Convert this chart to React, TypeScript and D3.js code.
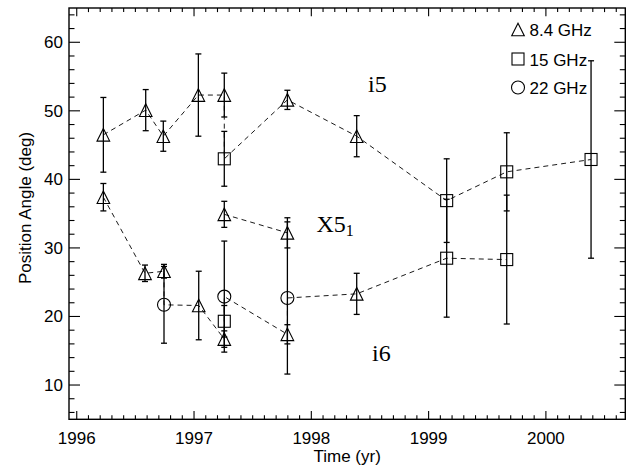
import React from "react";
import * as d3 from "d3";

// ---- data ----
type Band = "X" | "U" | "K"; // X: 8.4 GHz, U: 15 GHz, K: 22 GHz

const i5Epochs = [1996.227, 1996.588, 1996.738, 1997.037, 1997.258, 1997.258, 1997.796, 1998.387, 1999.154, 1999.666, 2000.385];
const i5Angles = [46.5, 50.1, 46.3, 52.3, 52.3, 43.0, 51.6, 46.3, 36.9, 41.1, 42.9];
const i5Errors = [5.45, 3.0, 2.2, 6.0, 3.2, 4.0, 1.4, 3.0, 6.1, 5.7, 14.4];
const i5Bands: Band[] = ["X", "X", "X", "X", "X", "U", "X", "X", "U", "U", "U"];

const x51Epochs = [1997.258, 1997.796];
const x51Angles = [34.9, 32.2];
const x51Errors = [1.9, 2.2];
const x51Bands: Band[] = ["X", "X"];

const i6Epochs = [1996.227, 1996.582, 1996.744, 1996.744, 1997.04, 1997.258, 1997.258, 1997.258, 1997.796, 1997.796, 1998.387, 1999.154, 1999.666];
const i6Angles = [37.4, 26.3, 26.6, 21.7, 21.6, 16.7, 19.3, 22.9, 17.4, 22.7, 23.3, 28.5, 28.3];
const i6Errors = [2.0, 1.2, 1.0, 5.6, 5.0, 1.2, 2.3, 8.1, 1.4, 11.1, 3.0, 8.6, 9.4];
const i6Bands: Band[] = ["X", "X", "X", "K", "X", "X", "U", "K", "X", "K", "X", "U", "U"];

const xTickYears = [1996, 1997, 1998, 1999, 2000];
const yTickValues = [10, 20, 30, 40, 50, 60];
const legendBands: Band[] = ["X", "U", "K"];
const legendLabels = ["8.4 GHz", "15 GHz", "22 GHz"];

const W = 633;
const H = 466;
const left = 69, right = 625.3, top = 8, bottom = 419.3;

const x = d3.scaleLinear().domain([1995.934, 2000.677]).range([left, right]);
const y = d3.scaleLinear().domain([5, 65]).range([bottom, top]);

const SANS = "'Liberation Sans', Arial, Helvetica, sans-serif";
const SERIF = "'Liberation Serif', 'Times New Roman', serif";

function Marker({ band, cx, cy }: { band: Band; cx: number; cy: number }) {
  const s = 6.3;
  if (band === "X") {
    const tri = d3.line()([[cx - s, cy + s], [cx, cy - s], [cx + s, cy + s]]) + "Z";
    return <path d={tri} fill="none" stroke="#000" strokeWidth={1.1} />;
  }
  if (band === "U") {
    return <rect x={cx - 6} y={cy - 6} width={12} height={12} fill="none" stroke="#000" strokeWidth={1.1} />;
  }
  return <circle cx={cx} cy={cy} r={6.5} fill="none" stroke="#000" strokeWidth={1.1} />;
}

function Series({ epochs, angles, errors, bands }: { epochs: number[]; angles: number[]; errors: number[]; bands: Band[] }) {
  const pts = epochs.map((e, i) => [x(e), y(angles[i])] as [number, number]);
  const line = d3.line()(pts) || "";
  return (
    <g>
      <path d={line} fill="none" stroke="#000" strokeWidth={0.9} strokeDasharray="5,4" />
      {epochs.map((e, i) => {
        const px = x(e);
        const y1 = y(angles[i] + errors[i]);
        const y2 = y(angles[i] - errors[i]);
        return (
          <g key={"e" + i} stroke="#000" strokeWidth={1.3}>
            <line x1={px} x2={px} y1={y1} y2={y2} />
            <line x1={px - 3} x2={px + 3} y1={y1} y2={y1} />
            <line x1={px - 3} x2={px + 3} y1={y2} y2={y2} />
          </g>
        );
      })}
      {epochs.map((e, i) => (
        <Marker key={"m" + i} band={bands[i]} cx={x(e)} cy={y(angles[i])} />
      ))}
    </g>
  );
}

export default function App() {
  const xMinor = d3.range(19960, 20007).map((v) => v / 10).filter((v) => v >= 1995.934 && v <= 2000.677);
  const yMinor = d3.range(6, 65, 2);
  const xMajLen = 8.2, xMinLen = 4.1, yMajLen = 11, yMinLen = 5.5;

  return (
    <svg width={W} height={H} style={{ position: "absolute", left: 0, top: 0, background: "#fff" }}>
      <rect x={0} y={0} width={W} height={H} fill="#fff" />
      {/* ticks */}
      <g stroke="#000" strokeWidth={1.1}>
        {xMinor.map((v, i) => {
          const major = xTickYears.some((t) => Math.abs(t - v) < 1e-6);
          const len = major ? xMajLen : xMinLen;
          const px = x(v);
          return (
            <g key={"xt" + i}>
              <line x1={px} x2={px} y1={bottom} y2={bottom - len} />
              <line x1={px} x2={px} y1={top} y2={top + len} />
            </g>
          );
        })}
        {yMinor.map((v, i) => {
          const major = v % 10 === 0;
          const len = major ? yMajLen : yMinLen;
          const py = y(v);
          return (
            <g key={"yt" + i}>
              <line x1={left} x2={left + len} y1={py} y2={py} />
              <line x1={right} x2={right - len} y1={py} y2={py} />
            </g>
          );
        })}
      </g>
      <rect x={left} y={top} width={right - left} height={bottom - top} fill="none" stroke="#000" strokeWidth={1.4} />

      {/* tick labels */}
      <g fontFamily={SANS} fontSize={17} fill="#000">
        {xTickYears.map((t) => (
          <text key={"xl" + t} x={x(t)} y={443.5} textAnchor="middle">{t}</text>
        ))}
        {yTickValues.map((t) => (
          <text key={"yl" + t} x={63} y={y(t) + 6} textAnchor="end">{t}</text>
        ))}
        <text x={(left + right) / 2} y={461.5} textAnchor="middle">Time (yr)</text>
        <text transform={`translate(31,208) rotate(-90)`} textAnchor="middle">Position Angle (deg)</text>
      </g>

      {/* data */}
      <Series epochs={i5Epochs} angles={i5Angles} errors={i5Errors} bands={i5Bands} />
      <Series epochs={x51Epochs} angles={x51Angles} errors={x51Errors} bands={x51Bands} />
      <Series epochs={i6Epochs} angles={i6Angles} errors={i6Errors} bands={i6Bands} />

      {/* component labels */}
      <g fontFamily={SERIF} fontSize={24} fill="#000">
        <text x={368} y={91.5}>i5</text>
        <text x={316.5} y={232}>X5<tspan fontSize={16} dy={4}>1</tspan></text>
        <text x={372} y={361}>i6</text>
      </g>

      {/* legend */}
      <g fontFamily={SANS} fontSize={17} fill="#000">
        {legendBands.map((b, i) => {
          const cy = [29.5, 59, 87.5][i];
          const by = [35.5, 65.5, 94][i];
          return (
            <g key={"lg" + b}>
              <Marker band={b} cx={518} cy={cy} />
              <text x={529.5} y={by}>{legendLabels[i]}</text>
            </g>
          );
        })}
      </g>
    </svg>
  );
}
